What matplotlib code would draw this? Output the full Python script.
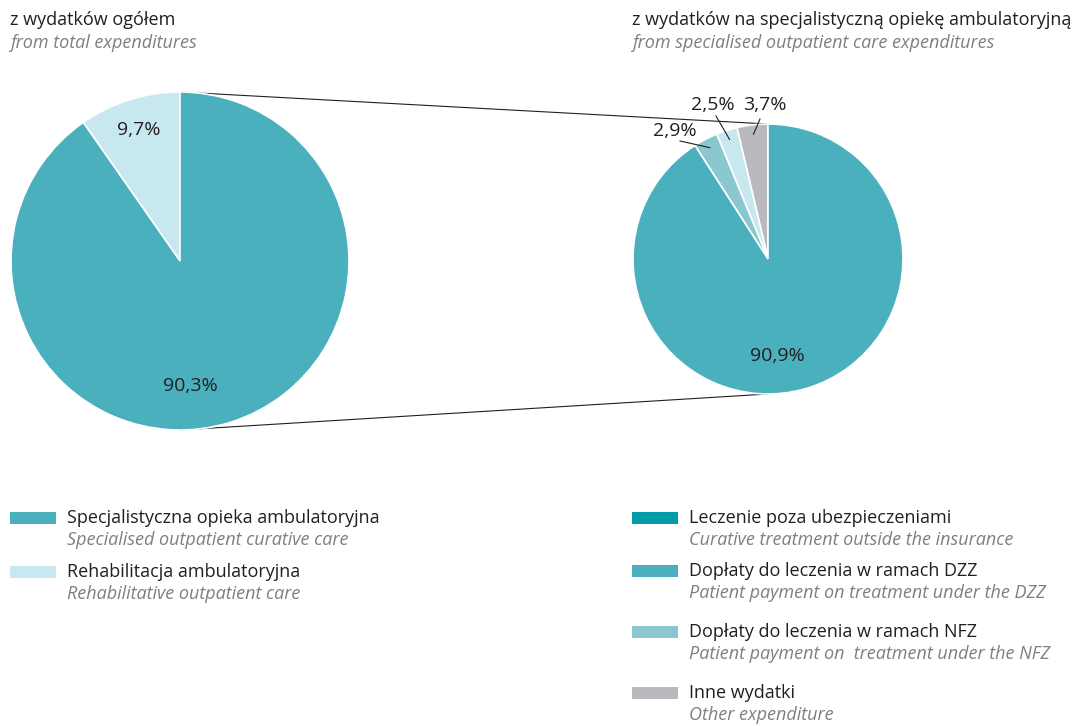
import numpy as np
import matplotlib
matplotlib.use("Agg")
import matplotlib.pyplot as plt
from matplotlib.patches import Rectangle

# ---- data ----
left_title = "z wydatków ogółem"
left_subtitle = "from total expenditures"
right_title = "z wydatków na specjalistyczną opiekę ambulatoryjną"
right_subtitle = "from specialised outpatient care expenditures"

left_values = [9.7, 90.3]
left_labels = ["9,7%", "90,3%"]
left_colors = ["#C8E8EF", "#4BB0BD"]

right_values = [3.7, 2.5, 2.9, 90.9]
right_labels = ["3,7%", "2,5%", "2,9%", "90,9%"]
right_colors = ["#B9BABD", "#C8E8EF", "#8BC7CF", "#4BB0BD"]

legend_left_pl = ["Specjalistyczna opieka ambulatoryjna", "Rehabilitacja ambulatoryjna"]
legend_left_en = ["Specialised outpatient curative care", "Rehabilitative outpatient care"]
legend_left_colors = ["#4BB0BD", "#C8E8EF"]

legend_right_pl = ["Leczenie poza ubezpieczeniami", "Dopłaty do leczenia w ramach DZZ",
                   "Dopłaty do leczenia w ramach NFZ", "Inne wydatki"]
legend_right_en = ["Curative treatment outside the insurance", "Patient payment on treatment under the DZZ",
                   "Patient payment on  treatment under the NFZ", "Other expenditure"]
legend_right_colors = ["#009DA9", "#4BB0BD", "#8BC7CF", "#B9BABD"]

# ---- figure ----
W, H = 1076, 726
fig = plt.figure(figsize=(W / 100, H / 100), dpi=100)
ax = fig.add_axes([0, 0, 1, 1])
FONT = "Open Sans"
DARK = "#231F20"
GREY = "#7F7F7F"

def Y(y):
    return H - y

# pies
lc, lr = (180, Y(261)), 169
rc, rr = (768, Y(259)), 135
ax.pie(left_values, colors=left_colors, startangle=90, counterclock=True,
       center=lc, radius=lr, frame=True,
       wedgeprops=dict(edgecolor="white", linewidth=1.2))
ax.pie(right_values, colors=right_colors, startangle=90, counterclock=True,
       center=rc, radius=rr, frame=True,
       wedgeprops=dict(edgecolor="white", linewidth=1.2))

ax.set_xlim(0, W)
ax.set_ylim(0, H)
ax.set_aspect("equal")
ax.axis("off")

# connector lines
ax.plot([lc[0], rc[0]], [lc[1] + lr, rc[1] + rr], color=DARK, lw=0.8, zorder=0.5)
ax.plot([lc[0], rc[0]], [lc[1] - lr, rc[1] - rr], color=DARK, lw=0.8, zorder=0.5)

fs = 14
# labels left pie
ax.text(139, Y(130), left_labels[0], fontsize=fs, family=FONT, color=DARK, ha="center", va="center")
ax.text(190, Y(386), left_labels[1], fontsize=fs, family=FONT, color=DARK, ha="center", va="center")

# labels right pie
ax.text(777, Y(356), right_labels[3], fontsize=fs, family=FONT, color=DARK, ha="center", va="center")
small_pos = [(765, 105), (713, 105), (675, 131)]
leader_start = [(760, 119), (716, 116), (680, 141)]
ang0 = 90.0
for i in range(3):
    a1 = ang0 + right_values[i] * 3.6
    mid = np.deg2rad((ang0 + a1) / 2)
    ang0 = a1
    ex = rc[0] + 0.93 * rr * np.cos(mid)
    ey = rc[1] + 0.93 * rr * np.sin(mid)
    sx, sy = leader_start[i]
    ax.plot([sx, ex], [Y(sy), ey], color=DARK, lw=0.8)
    ax.text(small_pos[i][0], Y(small_pos[i][1]), right_labels[i], fontsize=fs,
            family=FONT, color=DARK, ha="center", va="center")

# titles
tfs = 13
ax.text(10, Y(20), left_title, fontsize=tfs, family=FONT, color=DARK, va="center")
ax.text(10, Y(43), left_subtitle, fontsize=tfs, family=FONT, color=GREY, style="italic", va="center")
ax.text(632, Y(20), right_title, fontsize=tfs, family=FONT, color=DARK, va="center")
ax.text(632, Y(43), right_subtitle, fontsize=tfs, family=FONT, color=GREY, style="italic", va="center")

# legends
def legend(x, ys, pl, en, cols):
    for y, p, e, c in zip(ys, pl, en, cols):
        ax.add_patch(Rectangle((x, Y(y + 6)), 46, 12, color=c, lw=0))
        ax.text(x + 57, Y(y), p, fontsize=tfs, family=FONT, color=DARK, va="center")
        ax.text(x + 57, Y(y + 22), e, fontsize=tfs, family=FONT, color=GREY, style="italic", va="center")

legend(10, [518, 572], legend_left_pl, legend_left_en, legend_left_colors)
legend(632, [518, 571, 632, 693], legend_right_pl, legend_right_en, legend_right_colors)

fig.savefig("out.png", dpi=100)
